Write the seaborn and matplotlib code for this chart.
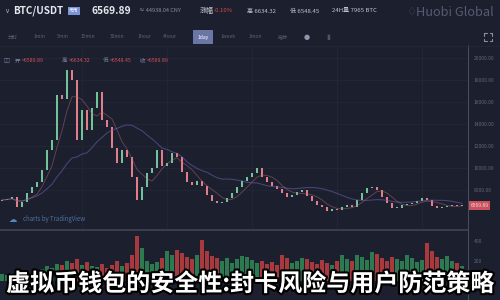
import numpy as np
import pandas as pd
import matplotlib
matplotlib.use("Agg")
import matplotlib.pyplot as plt
import matplotlib.patheffects as pe
from matplotlib.lines import Line2D
import seaborn as sns

# ---------------- data ----------------
closes = [7090, 7180, 7360, 6450, 6910, 7730, 8270, 8730, 9820, 11640,
          12550, 16640, 16300, 18910, 18000, 12550, 15270, 13450, 15450, 16910,
          14360, 13730, 11820, 10450, 11640, 11000, 9180, 7090, 8270, 9550,
          10000, 11640, 10180, 10450, 11360, 11000, 9640, 8730, 8450, 8820,
          8360, 7550, 7000, 6820, 6910, 7270, 7730, 8270, 8820, 9180,
          9550, 10000, 9180, 8730, 8360, 8090, 7730, 7360, 7550, 7820,
          8000, 7450, 7000, 6640, 6450, 6090, 6270, 6180, 6450, 6640,
          6450, 7090, 7730, 8180, 8270, 8000, 7360, 6820, 6360, 6360,
          6640, 6730, 6820, 7000, 7270, 7090, 6550, 6360, 6450, 6550,
          6640, 6550, 6570]
first_open = 7000
volumes = [70, 60, 80, 110, 90, 70, 80, 100, 120, 150, 130, 170, 160,
           200, 180, 220, 160, 190, 150, 140, 170, 130, 160, 200,
           150, 180, 260, 450, 330, 200,
           170, 190, 230, 300, 260, 310,
           280, 240, 220, 260, 410, 300, 250, 230,
           200, 230, 180, 220, 250, 240,
           210, 180, 200, 170, 190, 160,
           260, 230, 180, 200, 230, 220,
           190, 170, 210, 180, 160, 200,
           260, 220, 200, 260, 240, 210,
           290, 270, 230, 200, 240, 220,
           200, 260, 230, 190, 210, 380,
           300, 240, 220, 250, 200, 180, 150]
price_ticks = [8000, 10000, 12000, 14000, 16000, 18000, 20000]
vol_ticks = [200, 400]
last_price = 6569.89
title = "虚拟币钱包的安全性:封卡风险与用户防范策略"
intervals = ["分时", "1min", "5min", "15min", "30min", "1hour", "4hour", "1day", "1week", "1mon", "指标"]
interval_x = [13, 40, 63, 88, 117, 145, 170, 203, 228, 255, 283]

# ---------------- style ----------------
BG = "#1c1f2e"
UP, DOWN = "#72c39a", "#e27e89"
VUP, VDOWN = "#2d7a50", "#a83a3e"
sns.set_theme(style="dark", rc={"axes.facecolor": BG, "figure.facecolor": BG,
                                "axes.edgecolor": BG, "grid.color": "#262a3c"})
plt.rcParams["font.family"] = ["Noto Sans CJK SC", "DejaVu Sans"]

n = len(closes)
idx = np.arange(n)
opens = [first_open] + closes[:-1]
df = pd.DataFrame({"i": idx, "open": opens, "close": closes, "vol": volumes})
df["dir"] = np.where(df["close"] >= df["open"], "up", "down")
df["body"] = df["close"] - df["open"]
df["body"] = np.where(df["body"].abs() < 60, 60, df["body"])
df["ma_fast"] = df["close"].rolling(5, min_periods=1).mean()
df["ma_slow"] = df["close"].rolling(18, min_periods=1).mean()

fig = plt.figure(figsize=(5, 3), dpi=100)
fig.patch.set_facecolor(BG)


def px_axes(x0, y0, x1, y1):
    return fig.add_axes([x0 / 500, 1 - y1 / 300, (x1 - x0) / 500, (y1 - y0) / 300])


def T(x, y, s, **kw):
    kw.setdefault("va", "center")
    return fig.text(x / 500, 1 - y / 300, s, **kw)


def L(xs, ys, **kw):
    fig.add_artist(Line2D([x / 500 for x in xs], [1 - y / 300 for y in ys], **kw))


XL = (-0.4, 93.2)

# price panel
ax = px_axes(0, 48, 468, 230)
ax.set_facecolor(BG)
ax.set_xlim(*XL)
ax.set_ylim(4364, 20909)
sns.lineplot(data=df, x="i", y="ma_slow", ax=ax, color="#6f5fae", lw=0.8, alpha=0.55)
sns.lineplot(data=df, x="i", y="ma_fast", ax=ax, color="#b86a78", lw=0.7, alpha=0.45)
colors = [UP if d == "up" else DOWN for d in df["dir"]]
ax.bar(df["i"], df["body"], bottom=df["open"], width=0.55, color=colors, linewidth=0)
ax.yaxis.tick_right()
ax.set_yticks(price_ticks)
ax.set_yticklabels([f"{v:.2f}" for v in price_ticks])
ax.tick_params(axis="y", colors="#5f6477", labelsize=3.6, length=0, pad=4)
ax.set_xticks([16, 33, 50, 67, 84])
ax.tick_params(axis="x", length=0, labelbottom=False)
ax.grid(True, color="#242838", lw=0.5)
ax.set_xlabel("")
ax.set_ylabel("")
for s in ax.spines.values():
    s.set_visible(False)
ax.text(1.005, last_price, f"{last_price:.2f}", transform=ax.get_yaxis_transform(),
        fontsize=3.6, color="#f4d9dc", va="center", ha="left",
        bbox=dict(boxstyle="square,pad=0.35", fc="#c9525d", ec="none"))

# volume panel
axv = px_axes(0, 230, 468, 300)
axv.set_facecolor(BG)
sns.barplot(data=df, x="i", y="vol", hue="dir", palette={"up": VUP, "down": VDOWN},
            native_scale=True, dodge=False, width=0.7, legend=False, saturation=1,
            ax=axv, linewidth=0)
axv.set_xlim(*XL)
axv.set_ylim(-190, 510)
axv.yaxis.tick_right()
axv.set_yticks(vol_ticks)
axv.set_yticklabels([str(v) for v in vol_ticks])
axv.tick_params(axis="y", colors="#5f6477", labelsize=3.6, length=0, pad=4)
axv.set_xticks([])
axv.set_xlabel("")
axv.set_ylabel("")
axv.grid(False)
for s in axv.spines.values():
    s.set_visible(False)

# separators
L([468, 468], [45, 300], color="#4a4f63", lw=0.7)
L([0, 468], [230, 230], color="#3f4457", lw=1.2)
L([0, 500], [46, 46], color="#242838", lw=0.6)

# header row 1
T(4, 11, "∨", fontsize=5, color="#9aa0b0", family="DejaVu Sans")
T(13, 11, "BTC/USDT", fontsize=7.2, color="#e6e8ef", weight="bold")
T(69, 11, "币币", fontsize=3.5, color="#ffffff",
  bbox=dict(boxstyle="square,pad=0.3", fc="#7b93d8", ec="none"))
T(92, 11, "6569.89", fontsize=7.4, color="#e6e8ef", weight="bold")
T(139, 11, "≈ 44938.04 CNY", fontsize=4, color="#8a8fa0")
T(200, 11, "涨幅", fontsize=5, color="#c8cbd6")
T(214, 11, "-0.10%", fontsize=4.3, color="#d9484f")
T(247, 11, "高 6634.32", fontsize=4.3, color="#c0c4d0")
T(290, 11, "低 6548.45", fontsize=4.3, color="#c0c4d0")
T(332, 11, "24H量 7965 BTC", fontsize=4.3, color="#c0c4d0")
T(406, 12, "♢", fontsize=8, color="#555b70", family="DejaVu Sans")
T(416, 12, "Huobi Global", fontsize=9.2, color="#555b70")

# header row 2
for lab, x in zip(intervals, interval_x):
    if lab == "1day":
        T(x, 37, lab, fontsize=3.6, color="#ffffff", ha="center",
          bbox=dict(boxstyle="square,pad=0.9", fc="#6a77a6", ec="none"))
    else:
        T(x, 37, lab, fontsize=3.6, color="#5d6378", ha="center")
T(307, 37, "●", fontsize=5, color="#8e95ad", ha="center", family="DejaVu Sans")
T(328, 37, "▮", fontsize=5, color="#4d5470", ha="center", family="DejaVu Sans")
# fullscreen icon (drawn as four corner marks)
fc = "#8a90a3"
for cx, cy, dx, dy in [(484, 33, 1, 1), (492, 33, -1, 1), (484, 41, 1, -1), (492, 41, -1, -1)]:
    L([cx, cx + 2.5 * dx], [cy, cy], color=fc, lw=0.8)
    L([cx, cx], [cy, cy + 2.5 * dy], color=fc, lw=0.8)

# ohlc legend row
T(3, 61, "◫", fontsize=4.5, color="#7b86a8", family="DejaVu Sans")
items = [("开", "=6589.89", 15), ("高", "=6634.32", 62), ("低", "=6548.45", 103), ("收", "=6569.89", 140)]
for lab, val, x in items:
    T(x, 61, lab, fontsize=4, color="#7b86a8")
    T(x + 7, 61, val, fontsize=3.8, color="#d4505c")

# tradingview mark
T(9, 219, "☁", fontsize=6, color="#4e8cc9", family="DejaVu Sans")
T(23, 219, "charts by TradingView", fontsize=4.4, color="#4d6f9e")

# overlay title
T(250, 284, title, fontsize=17.3, color="#ffffff", weight="black", ha="center",
  path_effects=[pe.withStroke(linewidth=3, foreground="#000000")])

fig.savefig("out.png", dpi=100, facecolor=BG)
